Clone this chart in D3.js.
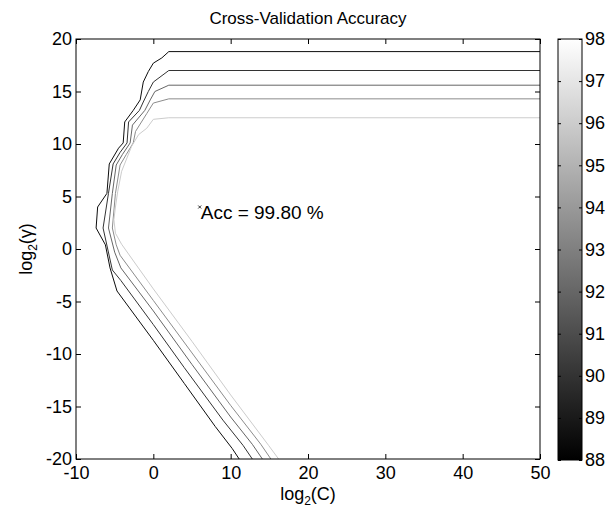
<!DOCTYPE html>
<html>
<head>
<meta charset="utf-8">
<script src="https://cdn.jsdelivr.net/npm/d3@7"></script>
<style>
  body { margin: 0; background: #fff; }
  svg text { font-family: "Liberation Sans", Arial, Helvetica, sans-serif; fill: #000; }
</style>
</head>
<body>
<div id="viz"></div>
<script>
// axis ticks
var xTicks = [-10, 0, 10, 20, 30, 40, 50];
var yTicks = [-20, -15, -10, -5, 0, 5, 10, 15, 20];
var cbTicks = [88, 89, 90, 91, 92, 93, 94, 95, 96, 97, 98];

// contour levels (accuracy %) and their lines as [log2C, log2gamma]
var levels = [88.5, 90, 92, 93.5, 96];
var line88 = [[50,18.8],[2,18.8],[1.1,18.2],[0,17.7],[-0.65,16.9],[-1.3,15.9],[-1.7,14.2],[-2.6,13.2],[-3.7,12.1],[-3.9,10.1],[-4.5,9.6],[-5.7,8.1],[-6,5.3],[-7.2,4],[-7.4,2],[-6.2,0.4],[-5.6,-1.8],[-4.7,-4],[0,-8.7],[4,-12.8],[8,-16.9],[10.2,-19],[11.1,-20]];
var line90 = [[50,17],[2,17],[0,15.9],[-0.65,15],[-1.3,14],[-1.8,13.2],[-3.2,12.1],[-3.4,10.1],[-4.3,9.2],[-5.2,8.1],[-5.8,5.3],[-6.5,2],[-5.9,0],[-5.3,-2],[-4.2,-3],[0,-7.2],[4,-11.3],[9,-16.3],[11.6,-18.7],[12.8,-20]];
var line92 = [[50,15.6],[2,15.6],[0.2,15],[-0.4,14.2],[-1.1,13.2],[-2.7,11.8],[-3,10.1],[-4,9],[-4.8,8],[-5.3,5.3],[-5.8,2],[-5,-0.3],[-4.2,-1.8],[0,-5.9],[5,-11],[10,-16],[12.8,-18.6],[14.1,-20]];
var line935 = [[50,14.3],[2,14.3],[0,13.9],[-0.85,12.9],[-2.3,11.2],[-2.6,10.1],[-3.5,9],[-4.3,8],[-4.9,5.3],[-5.3,2],[-4.8,0.4],[-4.3,-0.6],[0,-4.9],[5,-9.9],[10,-14.9],[13.9,-18.6],[15.2,-20]];
var line96 = [[50,12.5],[2,12.5],[0,12.35],[-0.85,11.5],[-1.9,10.9],[-2.8,9.8],[-4.1,7.4],[-4.6,5.5],[-4.9,4],[-5.1,2.8],[-4.9,1.5],[-4.1,0.45],[0,-3.8],[5,-8.8],[10,-13.9],[14.9,-18.7],[16.2,-20]];
var contours = [line88, line90, line92, line935, line96];

var best = [6, 4];
var bestAcc = 99.80;

var w = 614, h = 508;
var pL = 76, pR = 540, pT = 39, pB = 459;
var cbL = 558, cbR = 582, cbT = 39, cbB = 460;

var svg = d3.select('#viz').append('svg')
  .attr('width', w)
  .attr('height', h);

var x = d3.scaleLinear().domain([-10, 50]).range([pL, pR]);
var y = d3.scaleLinear().domain([-20, 20]).range([pB, pT]);
var gray = d3.scaleLinear().domain([88, 98]).range(['#000', '#fff']);

// contours
var line = d3.line().x(d => x(d[0])).y(d => y(d[1]));
svg.append('g')
  .selectAll('path')
  .data(contours)
  .enter()
  .append('path')
  .attr('d', line)
  .attr('fill', 'none')
  .attr('stroke', (d, i) => gray(levels[i]))
  .attr('stroke-width', 1);

// best point
var bx = x(best[0]), by = y(best[1]);
svg.append('path')
  .attr('d', 'M' + (bx-1.5) + ',' + (by-1.5) + 'L' + (bx+1.5) + ',' + (by+1.5) + 'M' + (bx-1.5) + ',' + (by+1.5) + 'L' + (bx+1.5) + ',' + (by-1.5))
  .attr('stroke', '#000')
  .attr('stroke-width', 0.8);
svg.append('text')
  .attr('x', bx + 1)
  .attr('y', by + 12)
  .style('font-size', '19px')
  .text('Acc = ' + bestAcc.toFixed(2) + ' %');

// axes (ticks inside, box on)
var fmt = d => String(d);
function styleAxis(g) {
  g.selectAll('.domain').remove();
  g.selectAll('line').attr('stroke', '#000');
  g.selectAll('text').style('font-size', '18px').attr('font-family', null);
}
svg.append('g').attr('transform', 'translate(0,' + pB + ')')
  .call(d3.axisBottom(x).tickValues(xTicks).tickSize(-5).tickPadding(7).tickFormat(fmt))
  .call(styleAxis);
svg.append('g').attr('transform', 'translate(0,' + pT + ')')
  .call(d3.axisTop(x).tickValues(xTicks).tickSize(-5).tickFormat(''))
  .call(styleAxis);
svg.append('g').attr('transform', 'translate(' + pL + ',0)')
  .call(d3.axisLeft(y).tickValues(yTicks).tickSize(-5).tickPadding(4).tickFormat(fmt))
  .call(styleAxis);
svg.append('g').attr('transform', 'translate(' + pR + ',0)')
  .call(d3.axisRight(y).tickValues(yTicks).tickSize(-5).tickFormat(''))
  .call(styleAxis);
svg.append('rect')
  .attr('x', pL).attr('y', pT)
  .attr('width', pR - pL).attr('height', pB - pT)
  .attr('fill', 'none').attr('stroke', '#000').attr('stroke-width', 1);

// colorbar
var cb = d3.scaleLinear().domain([88, 98]).range([cbB, cbT]);
var grad = svg.append('defs').append('linearGradient')
  .attr('id', 'cbgrad').attr('x1', 0).attr('y1', 1).attr('x2', 0).attr('y2', 0);
grad.append('stop').attr('offset', 0).attr('stop-color', gray(88));
grad.append('stop').attr('offset', 1).attr('stop-color', gray(98));
svg.append('rect')
  .attr('x', cbL).attr('y', cbT)
  .attr('width', cbR - cbL).attr('height', cbB - cbT)
  .attr('fill', 'url(#cbgrad)');
svg.append('g').attr('transform', 'translate(' + cbR + ',0)')
  .call(d3.axisRight(cb).tickValues(cbTicks).tickSize(-3).tickPadding(3).tickFormat(fmt))
  .call(styleAxis);
svg.append('g').attr('transform', 'translate(' + cbL + ',0)')
  .call(d3.axisLeft(cb).tickValues(cbTicks).tickSize(-3).tickFormat(''))
  .call(styleAxis);
svg.append('rect')
  .attr('x', cbL).attr('y', cbT)
  .attr('width', cbR - cbL).attr('height', cbB - cbT)
  .attr('fill', 'none').attr('stroke', '#000');

// title and labels
svg.append('text')
  .attr('x', (pL + pR) / 2).attr('y', 24)
  .attr('text-anchor', 'middle')
  .style('font-size', '17px')
  .text('Cross-Validation Accuracy');

var xl = svg.append('text')
  .attr('x', (pL + pR) / 2).attr('y', 500)
  .attr('text-anchor', 'middle')
  .style('font-size', '18px');
xl.append('tspan').text('log');
xl.append('tspan').attr('dy', 5).style('font-size', '12px').text('2');
xl.append('tspan').attr('dy', -5).text('(C)');

var yl = svg.append('text')
  .attr('transform', 'translate(32,' + (pT + pB) / 2 + ') rotate(-90)')
  .attr('text-anchor', 'middle')
  .style('font-size', '18px');
yl.append('tspan').text('log');
yl.append('tspan').attr('dy', 5).style('font-size', '12px').text('2');
yl.append('tspan').attr('dy', -5).text('(\u03b3)');
</script>
</body>
</html>
